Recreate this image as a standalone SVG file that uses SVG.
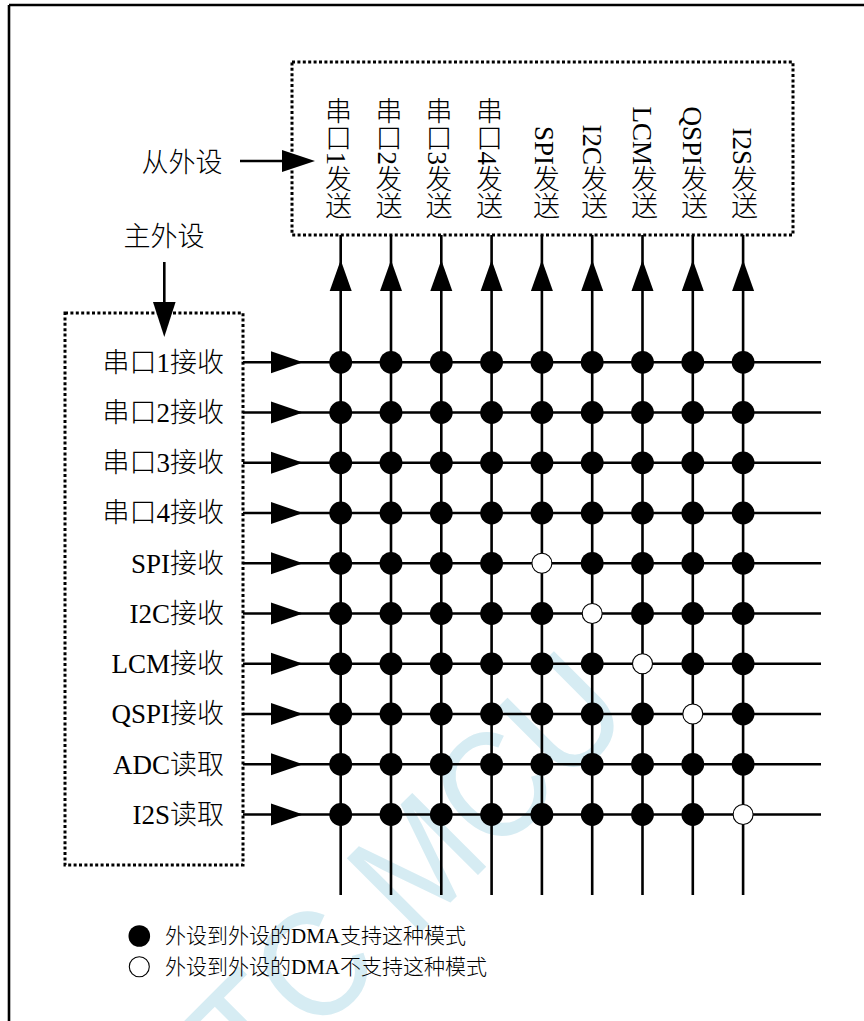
<svg xmlns="http://www.w3.org/2000/svg" width="864" height="1021" viewBox="0 0 864 1021">
<defs>
<style>
.t{font-family:"Liberation Serif","Noto Sans CJK SC",serif;font-size:27px;fill:#000;font-weight:300}
.v{writing-mode:vertical-rl;text-anchor:end}
.lg{font-size:21px}
.ln{stroke:#000;stroke-width:2.6;fill:none}
.box{stroke:#000;stroke-width:3;stroke-dasharray:3 2.4;fill:none}
.on{fill:#000}
.off{fill:#fff;stroke:#000;stroke-width:1.1}
.ah{fill:#000}
.wm{font-family:"Liberation Sans",sans-serif;font-size:152px;fill:#d6ecf3}
</style>
</defs>
<rect width="864" height="1021" fill="#fff"/>
<text class="wm" transform="translate(190,1163) rotate(-45) scale(0.91,1)">STC MCU</text>
<path class="ln" d="M9,5 H864 M9,5 V1021" stroke-width="2"/>
<g id="slave">
<rect class="box" x="292" y="62" width="501" height="173"/>
<text class="t v" x="336" y="219">串口1发送</text>
<text class="t v" x="386.5" y="219">串口2发送</text>
<text class="t v" x="436.5" y="219">串口3发送</text>
<text class="t v" x="487" y="219">串口4发送</text>
<text class="t v" x="544" y="219">SPI发送</text>
<text class="t v" x="592" y="219">I2C发送</text>
<text class="t v" x="642" y="219">LCM发送</text>
<text class="t v" x="692" y="219">QSPI发送</text>
<text class="t v" x="742" y="219">I2S发送</text>
</g>
<g id="slave-label">
<text class="t" x="182" y="172" text-anchor="middle">从外设</text>
</g>
<g id="master">
<rect class="box" x="65" y="313" width="178" height="552"/>
<text class="t" x="224" y="372" text-anchor="end">串口1接收</text>
<text class="t" x="224" y="422" text-anchor="end">串口2接收</text>
<text class="t" x="224" y="472" text-anchor="end">串口3接收</text>
<text class="t" x="224" y="522" text-anchor="end">串口4接收</text>
<text class="t" x="224" y="573" text-anchor="end">SPI接收</text>
<text class="t" x="224" y="623" text-anchor="end">I2C接收</text>
<text class="t" x="224" y="673" text-anchor="end">LCM接收</text>
<text class="t" x="224" y="723" text-anchor="end">QSPI接收</text>
<text class="t" x="224" y="774" text-anchor="end">ADC读取</text>
<text class="t" x="224" y="824" text-anchor="end">I2S读取</text>
</g>
<g id="master-label">
<text class="t" x="164" y="246" text-anchor="middle">主外设</text>
</g>
<g id="connectors">
<path class="ln" d="M240,161 H285 M164.3,262 V305"/>
<polygon class="ah" points="282,150 315,161 282,172"/>
<polygon class="ah" points="153,302 175.6,302 164.3,337"/>
<path class="ln" d="M340.7,235V895 M391,235V895 M441.3,235V895 M491.6,235V895 M541.9,235V895 M592.2,235V895 M642.5,235V895 M692.8,235V895 M743.1,235V895"/>
<path class="ln" d="M243,362.3H821 M243,412.5H821 M243,462.8H821 M243,513H821 M243,563.3H821 M243,613.5H821 M243,663.8H821 M243,714H821 M243,764.3H821 M243,814.5H821"/>
<g class="ah">
<polygon points="329.7,291 351.7,291 340.7,260"/>
<polygon points="380,291 402,291 391,260"/>
<polygon points="430.3,291 452.3,291 441.3,260"/>
<polygon points="480.6,291 502.6,291 491.6,260"/>
<polygon points="530.9,291 552.9,291 541.9,260"/>
<polygon points="581.2,291 603.2,291 592.2,260"/>
<polygon points="631.5,291 653.5,291 642.5,260"/>
<polygon points="681.8,291 703.8,291 692.8,260"/>
<polygon points="732.1,291 754.1,291 743.1,260"/>
<polygon points="271,351.3 271,373.3 303,362.3"/>
<polygon points="271,401.5 271,423.5 303,412.5"/>
<polygon points="271,451.8 271,473.8 303,462.8"/>
<polygon points="271,502 271,524 303,513"/>
<polygon points="271,552.3 271,574.3 303,563.3"/>
<polygon points="271,602.5 271,624.5 303,613.5"/>
<polygon points="271,652.8 271,674.8 303,663.8"/>
<polygon points="271,703 271,725 303,714"/>
<polygon points="271,753.3 271,775.3 303,764.3"/>
<polygon points="271,803.5 271,825.5 303,814.5"/>
</g>
</g>
<g id="nodes">
<g id="r0" class="on"><circle cx="340.7" cy="362.3" r="11.4"/><circle cx="391" cy="362.3" r="11.4"/><circle cx="441.3" cy="362.3" r="11.4"/><circle cx="491.6" cy="362.3" r="11.4"/><circle cx="541.9" cy="362.3" r="11.4"/><circle cx="592.2" cy="362.3" r="11.4"/><circle cx="642.5" cy="362.3" r="11.4"/><circle cx="692.8" cy="362.3" r="11.4"/><circle cx="743.1" cy="362.3" r="11.4"/></g>
<g id="r1" class="on"><circle cx="340.7" cy="412.5" r="11.4"/><circle cx="391" cy="412.5" r="11.4"/><circle cx="441.3" cy="412.5" r="11.4"/><circle cx="491.6" cy="412.5" r="11.4"/><circle cx="541.9" cy="412.5" r="11.4"/><circle cx="592.2" cy="412.5" r="11.4"/><circle cx="642.5" cy="412.5" r="11.4"/><circle cx="692.8" cy="412.5" r="11.4"/><circle cx="743.1" cy="412.5" r="11.4"/></g>
<g id="r2" class="on"><circle cx="340.7" cy="462.8" r="11.4"/><circle cx="391" cy="462.8" r="11.4"/><circle cx="441.3" cy="462.8" r="11.4"/><circle cx="491.6" cy="462.8" r="11.4"/><circle cx="541.9" cy="462.8" r="11.4"/><circle cx="592.2" cy="462.8" r="11.4"/><circle cx="642.5" cy="462.8" r="11.4"/><circle cx="692.8" cy="462.8" r="11.4"/><circle cx="743.1" cy="462.8" r="11.4"/></g>
<g id="r3" class="on"><circle cx="340.7" cy="513" r="11.4"/><circle cx="391" cy="513" r="11.4"/><circle cx="441.3" cy="513" r="11.4"/><circle cx="491.6" cy="513" r="11.4"/><circle cx="541.9" cy="513" r="11.4"/><circle cx="592.2" cy="513" r="11.4"/><circle cx="642.5" cy="513" r="11.4"/><circle cx="692.8" cy="513" r="11.4"/><circle cx="743.1" cy="513" r="11.4"/></g>
<g id="r4" class="on"><circle cx="340.7" cy="563.3" r="11.4"/><circle cx="391" cy="563.3" r="11.4"/><circle cx="441.3" cy="563.3" r="11.4"/><circle cx="491.6" cy="563.3" r="11.4"/><circle class="off" cx="541.9" cy="563.3" r="10"/><circle cx="592.2" cy="563.3" r="11.4"/><circle cx="642.5" cy="563.3" r="11.4"/><circle cx="692.8" cy="563.3" r="11.4"/><circle cx="743.1" cy="563.3" r="11.4"/></g>
<g id="r5" class="on"><circle cx="340.7" cy="613.5" r="11.4"/><circle cx="391" cy="613.5" r="11.4"/><circle cx="441.3" cy="613.5" r="11.4"/><circle cx="491.6" cy="613.5" r="11.4"/><circle cx="541.9" cy="613.5" r="11.4"/><circle class="off" cx="592.2" cy="613.5" r="10"/><circle cx="642.5" cy="613.5" r="11.4"/><circle cx="692.8" cy="613.5" r="11.4"/><circle cx="743.1" cy="613.5" r="11.4"/></g>
<g id="r6" class="on"><circle cx="340.7" cy="663.8" r="11.4"/><circle cx="391" cy="663.8" r="11.4"/><circle cx="441.3" cy="663.8" r="11.4"/><circle cx="491.6" cy="663.8" r="11.4"/><circle cx="541.9" cy="663.8" r="11.4"/><circle cx="592.2" cy="663.8" r="11.4"/><circle class="off" cx="642.5" cy="663.8" r="10"/><circle cx="692.8" cy="663.8" r="11.4"/><circle cx="743.1" cy="663.8" r="11.4"/></g>
<g id="r7" class="on"><circle cx="340.7" cy="714" r="11.4"/><circle cx="391" cy="714" r="11.4"/><circle cx="441.3" cy="714" r="11.4"/><circle cx="491.6" cy="714" r="11.4"/><circle cx="541.9" cy="714" r="11.4"/><circle cx="592.2" cy="714" r="11.4"/><circle cx="642.5" cy="714" r="11.4"/><circle class="off" cx="692.8" cy="714" r="10"/><circle cx="743.1" cy="714" r="11.4"/></g>
<g id="r8" class="on"><circle cx="340.7" cy="764.3" r="11.4"/><circle cx="391" cy="764.3" r="11.4"/><circle cx="441.3" cy="764.3" r="11.4"/><circle cx="491.6" cy="764.3" r="11.4"/><circle cx="541.9" cy="764.3" r="11.4"/><circle cx="592.2" cy="764.3" r="11.4"/><circle cx="642.5" cy="764.3" r="11.4"/><circle cx="692.8" cy="764.3" r="11.4"/><circle cx="743.1" cy="764.3" r="11.4"/></g>
<g id="r9" class="on"><circle cx="340.7" cy="814.5" r="11.4"/><circle cx="391" cy="814.5" r="11.4"/><circle cx="441.3" cy="814.5" r="11.4"/><circle cx="491.6" cy="814.5" r="11.4"/><circle cx="541.9" cy="814.5" r="11.4"/><circle cx="592.2" cy="814.5" r="11.4"/><circle cx="642.5" cy="814.5" r="11.4"/><circle cx="692.8" cy="814.5" r="11.4"/><circle class="off" cx="743.1" cy="814.5" r="10"/></g>
</g>
<g id="legend">
<circle class="on" cx="139.3" cy="936" r="10.8"/>
<circle class="off" cx="139.3" cy="966.7" r="10"/>
<text class="t lg" x="165" y="943">外设到外设的DMA支持这种模式</text>
<text class="t lg" x="165" y="974">外设到外设的DMA不支持这种模式</text>
</g>
</svg>
